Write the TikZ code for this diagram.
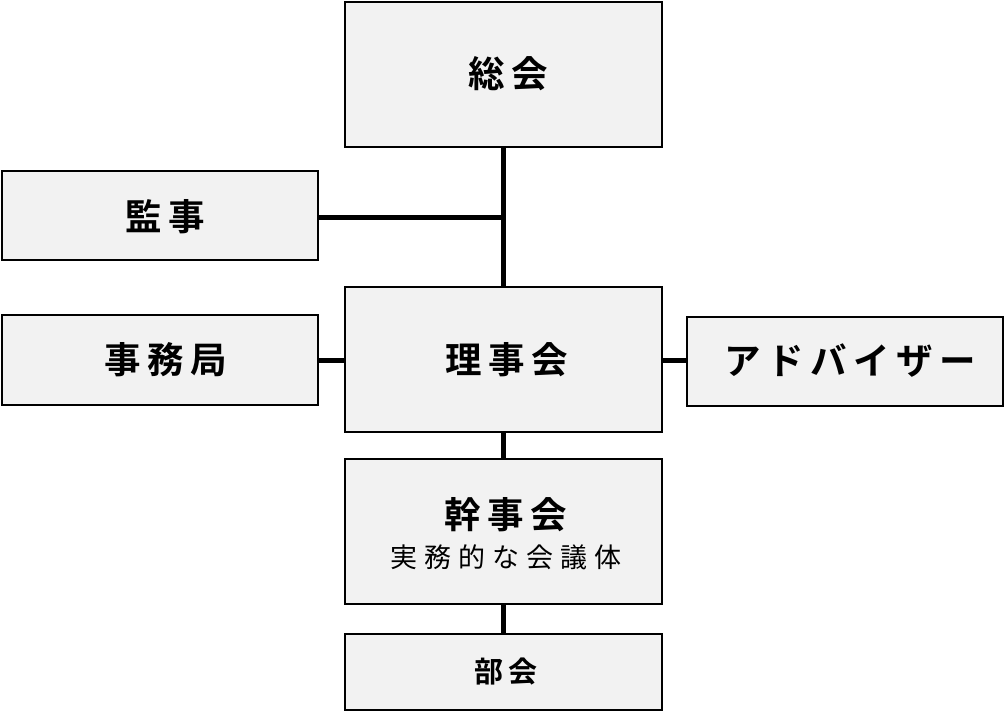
\documentclass[tikz,border=0pt]{standalone}
\usepackage{fontspec}
\newfontfamily\jpb[LetterSpace=18]{Noto Sans CJK JP Bold}
\newfontfamily\jpr[LetterSpace=26]{Noto Sans CJK JP}
\definecolor{boxfill}{HTML}{F2F2F2}
\begin{document}
\begin{tikzpicture}[x=1pt,y=-1pt,
  orgbox/.style={draw=black,line width=2pt,fill=boxfill},
  link/.style={line width=5pt,black},
  title/.style={font=\jpb\fontsize{36.5}{42}\selectfont}]
\useasboundingbox (0,0) rectangle (1005,712);
\draw[orgbox] (345,2) rectangle (662,147);
\node[title] (sokai) at (508,74) {総会};
\draw[orgbox] (2,171) rectangle (318,260);
\node[title] (kanji) at (165,217) {監事};
\draw[orgbox] (345,287) rectangle (662,432);
\node[title] (rijikai) at (507,360) {理事会};
\draw[orgbox] (2,315) rectangle (318,405);
\node[title] (jimukyoku) at (166,360) {事務局};
\draw[orgbox] (687,317) rectangle (1003,406);
\node[title] (adviser) at (850,361) {アドバイザー};
\draw[orgbox] (345,459) rectangle (662,604);
\node[title] (kanjikai) at (506,515) {幹事会};
\node[font=\jpr\fontsize{27}{32}\selectfont] (kanjisub) at (506,557) {実務的な会議体};
\draw[orgbox] (345,634) rectangle (662,710);
\node[font=\jpb\fontsize{29}{34}\selectfont] (bukai) at (506,672) {部会};
\coordinate (top) at (503,148);
\coordinate (mid) at (503,217);
\coordinate (rt) at (503,286);
\coordinate (kr) at (319,217);
\draw[link] (top) -- (rt);
\draw[link] (kr) -- (mid);
\draw[link] (319,360) -- (344,360);
\draw[link] (663,360) -- (686,360);
\draw[link] (503,433) -- (503,458);
\draw[link] (503,605) -- (503,633);
\end{tikzpicture}
\end{document}
